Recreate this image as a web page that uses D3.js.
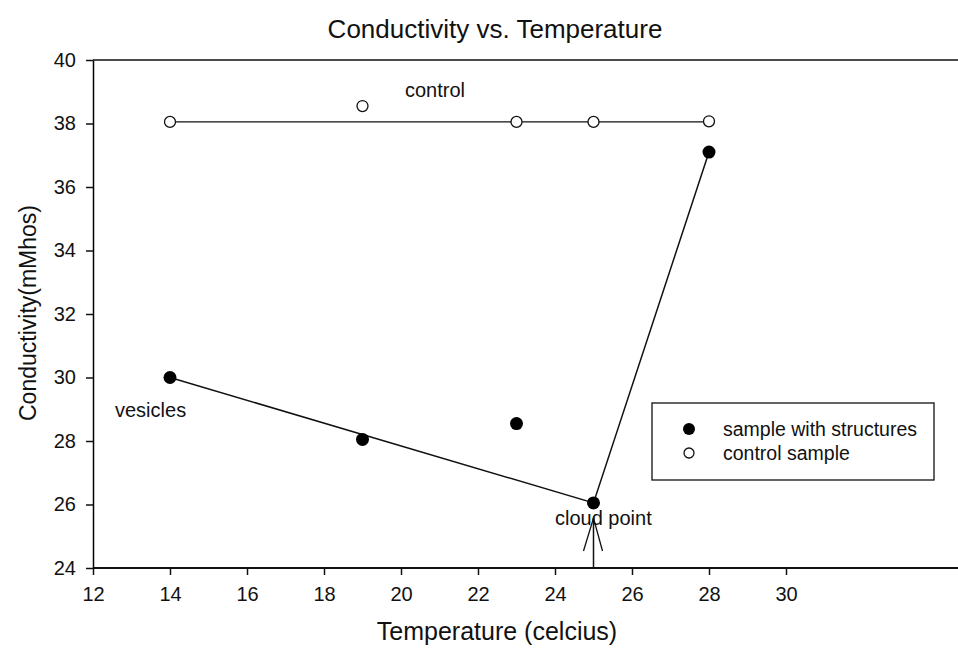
<!DOCTYPE html>
<html>
<head>
<meta charset="utf-8">
<script src="https://cdn.jsdelivr.net/npm/d3@7"></script>
<style>
  body { margin: 0; background: #fff; }
  text { font-family: "Liberation Sans", Arial, Helvetica, sans-serif; fill: #111; }
</style>
</head>
<body>
<svg id="chart" width="958" height="649"></svg>
<script>
"use strict";

// data
const structTemp = [14, 19, 23, 25, 28];
const structCond = [30.0, 28.05, 28.55, 26.05, 37.1];
const controlTemp = [14, 19, 23, 25, 28];
const controlCond = [38.05, 38.55, 38.05, 38.05, 38.07];
const structLineTemp = [14, 25, 28];
const structLineCond = [30.0, 26.05, 37.1];
const controlLineTemp = [14, 28];
const controlLineCond = [38.05, 38.05];
const xTicks = [12, 14, 16, 18, 20, 22, 24, 26, 28, 30];
const yTicks = [24, 26, 28, 30, 32, 34, 36, 38, 40];

const svg = d3.select("#chart");

const x = d3.scaleLinear().domain([12, 30]).range([93, 786]);
const y = d3.scaleLinear().domain([24, 40]).range([568, 60]);
const rightEdge = 958;

// frame lines (top and bottom run off to the right edge)
svg.append("line")
    .attr("x1", 93).attr("x2", rightEdge)
    .attr("y1", y(40)).attr("y2", y(40))
    .attr("stroke", "#111").attr("stroke-width", 1.5);
svg.append("line")
    .attr("x1", 93).attr("x2", rightEdge)
    .attr("y1", y(24)).attr("y2", y(24))
    .attr("stroke", "#111").attr("stroke-width", 1.8);

const xAxis = svg.append("g")
    .attr("transform", `translate(0,${y(24)})`)
    .call(d3.axisBottom(x).tickValues(xTicks).tickSize(7).tickPadding(12).tickSizeOuter(0));
xAxis.select(".domain").remove();

const yAxis = svg.append("g")
    .attr("transform", `translate(${x(12)},0)`)
    .call(d3.axisLeft(y).tickValues(yTicks).tickSize(7).tickPadding(10).tickSizeOuter(0));
yAxis.select(".domain").attr("stroke-width", 1.5);

svg.selectAll(".tick line").attr("stroke", "#111").attr("stroke-width", 1.5);
svg.selectAll(".tick text")
    .style("font-family", "'Liberation Sans', Arial, sans-serif")
    .style("font-size", "20px")
    .attr("fill", "#111");

// lines
const lineGen = d3.line().x(d => x(d[0])).y(d => y(d[1]));

svg.append("path")
    .datum(d3.zip(controlLineTemp, controlLineCond))
    .attr("d", lineGen)
    .attr("fill", "none").attr("stroke", "#111").attr("stroke-width", 1.3);

svg.append("path")
    .datum(d3.zip(structLineTemp, structLineCond))
    .attr("d", lineGen)
    .attr("fill", "none").attr("stroke", "#111").attr("stroke-width", 1.5);

// points
svg.append("g").selectAll("circle")
    .data(d3.zip(controlTemp, controlCond))
    .join("circle")
    .attr("cx", d => x(d[0]))
    .attr("cy", d => y(d[1]))
    .attr("r", 5.5)
    .attr("fill", "#fff")
    .attr("stroke", "#111")
    .attr("stroke-width", 1.3);

svg.append("g").selectAll("circle")
    .data(d3.zip(structTemp, structCond))
    .join("circle")
    .attr("cx", d => x(d[0]))
    .attr("cy", d => y(d[1]))
    .attr("r", 6.5)
    .attr("fill", "#000");

// annotations
svg.append("text").attr("x", 405).attr("y", 97).style("font-size", "20px").text("control");
svg.append("text").attr("x", 115).attr("y", 417).style("font-size", "20px").text("vesicles");
svg.append("text").attr("x", 555).attr("y", 525).style("font-size", "20px").text("cloud point");

// arrow pointing at cloud point
const ax = x(25);
svg.append("line")
    .attr("x1", ax).attr("x2", ax).attr("y1", y(24)).attr("y2", 518)
    .attr("stroke", "#111").attr("stroke-width", 1.5);
svg.append("path")
    .attr("d", `M${ax - 10},551 L${ax},518 L${ax + 9},551`)
    .attr("fill", "none").attr("stroke", "#111").attr("stroke-width", 1.3);

// legend
const legend = svg.append("g");
legend.append("rect")
    .attr("x", 652).attr("y", 403).attr("width", 282).attr("height", 77)
    .attr("fill", "#fff").attr("stroke", "#111").attr("stroke-width", 1.3);
legend.append("circle").attr("cx", 689).attr("cy", 429).attr("r", 6).attr("fill", "#000");
legend.append("circle").attr("cx", 689).attr("cy", 453).attr("r", 5)
    .attr("fill", "#fff").attr("stroke", "#111").attr("stroke-width", 1.3);
legend.append("text").attr("x", 723).attr("y", 436).style("font-size", "19.5px").text("sample with structures");
legend.append("text").attr("x", 723).attr("y", 460).style("font-size", "19.5px").text("control sample");

// titles
svg.append("text")
    .attr("x", 495).attr("y", 38)
    .attr("text-anchor", "middle")
    .style("font-size", "26px")
    .text("Conductivity vs. Temperature");

svg.append("text")
    .attr("x", 497).attr("y", 640)
    .attr("text-anchor", "middle")
    .style("font-size", "25px")
    .text("Temperature (celcius)");

svg.append("text")
    .attr("transform", "translate(36,313) rotate(-90)")
    .attr("text-anchor", "middle")
    .style("font-size", "23px")
    .text("Conductivity(mMhos)");
</script>
</body>
</html>
